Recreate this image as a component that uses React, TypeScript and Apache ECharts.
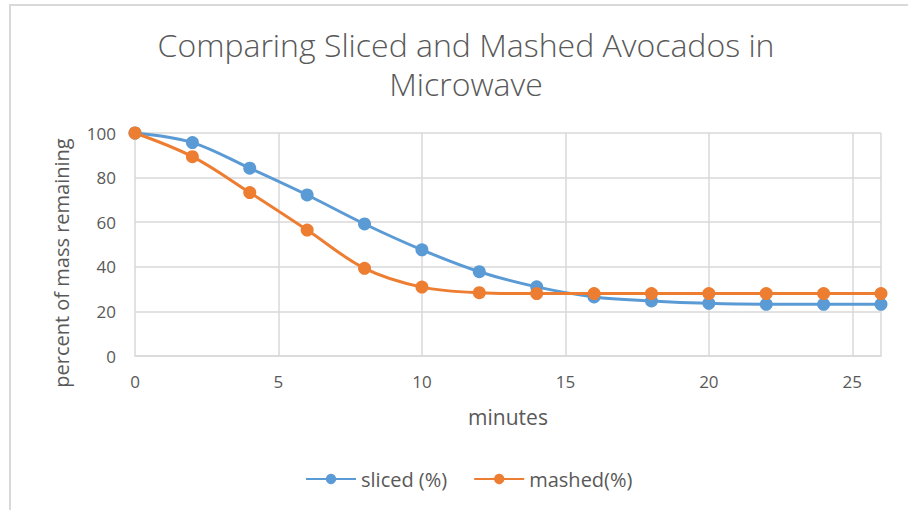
import React, { useEffect, useRef } from "react";
import * as echarts from "echarts";

const minutes = [0, 2, 4, 6, 8, 10, 12, 14, 16, 18, 20, 22, 24, 26];
const sliced = [100, 95.7, 84.2, 72.2, 59.2, 47.6, 37.8, 31, 26.5, 24.7, 23.6, 23.2, 23.2, 23.2];
const mashed = [100, 89.4, 73.3, 56.5, 39.3, 30.9, 28.4, 28, 28, 28, 28, 28, 28, 28];
const seriesNames = ["sliced (%)", "mashed(%)"];
const titleText = "Comparing Sliced and Mashed Avocados in\nMicrowave";
const xTitle = "minutes";
const yTitle = "percent of mass remaining";

const FONT = "Open Sans";
const TXT = "#595959";
const GRID = "#d9d9d9";

export default function App() {
  const ref = useRef<HTMLDivElement>(null);
  useEffect(() => {
    if (!ref.current) return;
    const chart = echarts.init(ref.current, undefined, { renderer: "svg" });
    const mk = (ys: number[]) => minutes.map((m, i) => [m, ys[i]]);
    chart.setOption({
      animation: false,
      backgroundColor: "#ffffff",
      textStyle: { fontFamily: FONT },
      title: {
        text: titleText,
        left: 461,
        textAlign: "center",
        top: 20,
        textStyle: { fontFamily: FONT, fontSize: 32, fontWeight: 300, color: TXT, lineHeight: 39 },
      },
      legend: {
        bottom: 16,
        left: 300,
        itemWidth: 50,
        itemHeight: 13,
        itemGap: 26,
        textStyle: { fontFamily: FONT, fontSize: 20, color: TXT },
        data: seriesNames,
      },
      grid: { left: 135, right: 27, top: 133, bottom: 154, containLabel: false },
      xAxis: {
        type: "value",
        min: 0,
        max: 26,
        interval: 5,
        axisLine: { show: true, lineStyle: { color: GRID, width: 1.5 } },
        axisTick: { show: false },
        axisLabel: { fontFamily: FONT, fontSize: 17, color: TXT, margin: 17, showMaxLabel: false },
        splitLine: { show: true, lineStyle: { color: GRID, width: 1.5 } },
      },
      yAxis: {
        type: "value",
        min: 0,
        max: 100,
        interval: 20,
        axisLine: { show: false },
        axisTick: { show: false },
        axisLabel: { fontFamily: FONT, fontSize: 17, color: TXT, margin: 19 },
        splitLine: { show: true, lineStyle: { color: GRID, width: 1.5 } },
      },
      graphic: [
        { type: "line", shape: { x1: 9, y1: 5, x2: 908, y2: 5 }, style: { stroke: GRID, lineWidth: 2 } },
        { type: "line", shape: { x1: 10, y1: 5, x2: 10, y2: 510 }, style: { stroke: GRID, lineWidth: 2 } },
        {
          type: "text",
          x: 508,
          y: 417,
          style: { text: xTitle, fontFamily: FONT, fontSize: 21, fill: TXT, align: "center", verticalAlign: "middle" },
        },
        {
          type: "text",
          x: 61,
          y: 263,
          rotation: Math.PI / 2,
          style: { text: yTitle, fontFamily: FONT, fontSize: 20, fill: TXT, align: "center", verticalAlign: "middle" },
        },
      ],
      series: [
        {
          name: seriesNames[0],
          type: "line",
          data: mk(sliced),
          smooth: 0.35,
          clip: false,
          symbol: "circle",
          symbolSize: 13,
          itemStyle: { color: "#5B9BD5" },
          lineStyle: { color: "#5B9BD5", width: 3 },
        },
        {
          name: seriesNames[1],
          type: "line",
          data: mk(mashed),
          smooth: 0.35,
          clip: false,
          symbol: "circle",
          symbolSize: 13,
          itemStyle: { color: "#ED7D31" },
          lineStyle: { color: "#ED7D31", width: 3 },
        },
      ],
    });
    return () => chart.dispose();
  }, []);
  return <div ref={ref} style={{ width: 908, height: 510, position: "absolute", left: 0, top: 0 }} />;
}
